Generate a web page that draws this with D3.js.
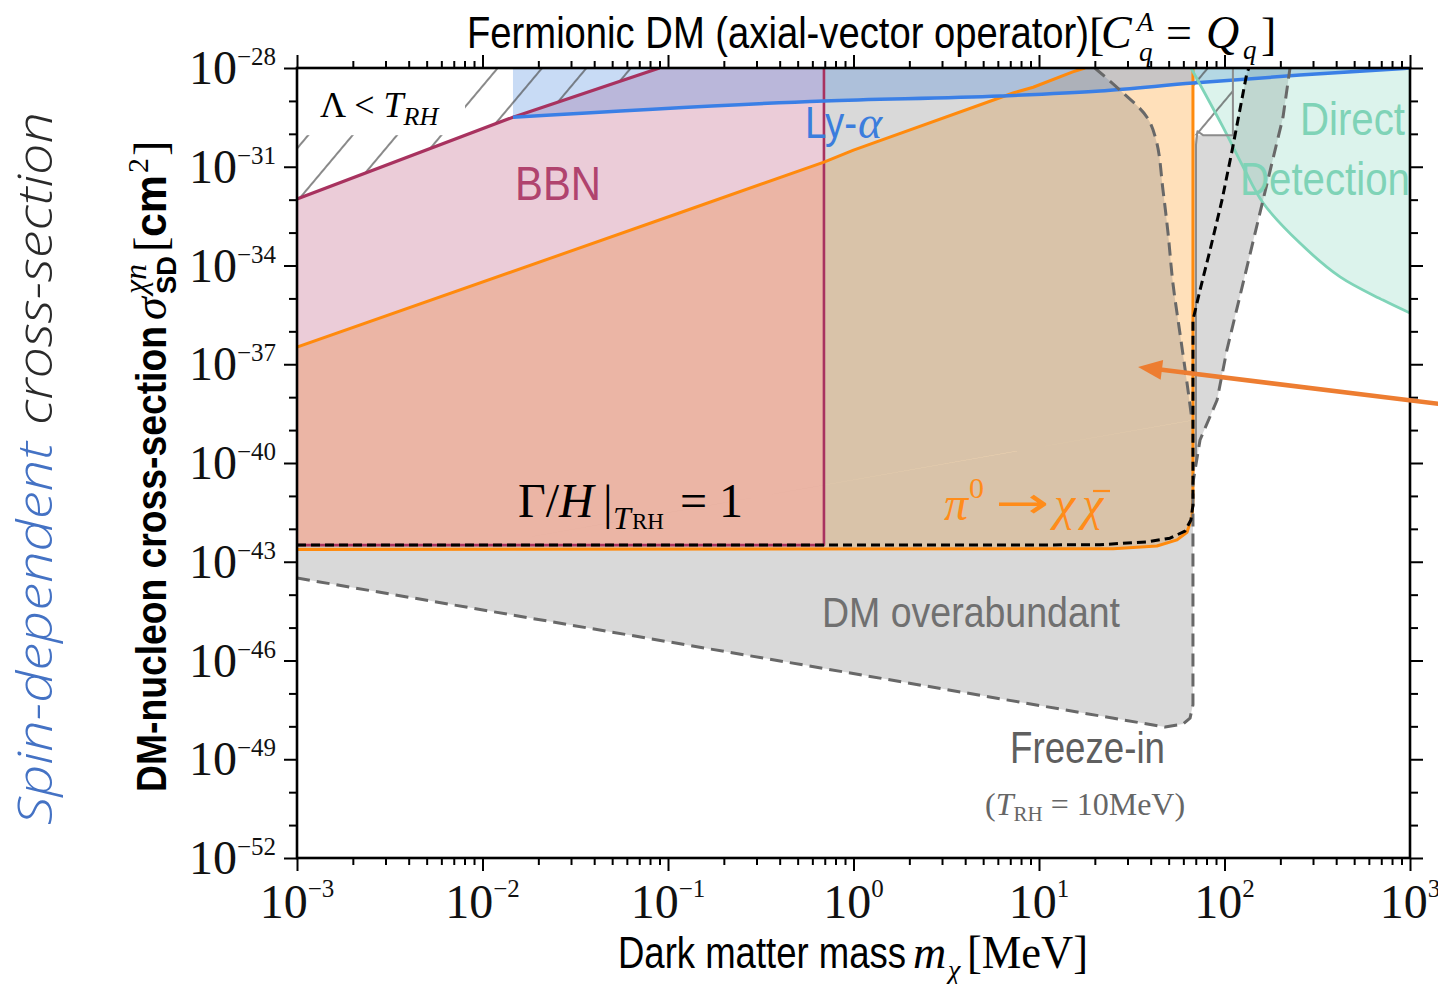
<!DOCTYPE html>
<html>
<head>
<meta charset="utf-8">
<script src="https://cdn.jsdelivr.net/npm/d3@7"></script>
<style>
  html, body { margin: 0; padding: 0; background: #fff; }
  svg { display: block; }
</style>
</head>
<body>
<svg id="chart" width="1438" height="984"></svg>
<script>
// ---------------- data: DM mass [MeV], cross-section [cm^2] ----------------
const xMajor    = [1e-3, 1e-2, 1e-1, 1e0, 1e1, 1e2, 1e3];
const xMajorExp = ["−3", "−2", "−1", "0", "1", "2", "3"];
const yMajor    = [1e-28, 1e-31, 1e-34, 1e-37, 1e-40, 1e-43, 1e-46, 1e-49, 1e-52];
const yMajorExp = ["−28", "−31", "−34", "−37", "−40", "−43", "−46", "−49", "−52"];

// Gamma/H|_TRH = 1 (thermalisation line)
const gammaH = [[0.001, 3.2e-43], [6.2, 3.2e-43], [21.3, 3.3e-43], [38, 4.0e-43], [50.8, 5.2e-43],
                [61.2, 8.5e-43], [65.9, 1.86e-42], [67.6, 5.2e-42], [67.6, 2.2e-36], [73.8, 1.8e-35],
                [83.6, 2.95e-34], [97, 9.8e-33], [110, 3.2e-31], [121, 5.3e-30], [132, 7.0e-29], [135.5, 1e-28]];

// pi0 -> chi chibar : lower/right edge and upper edge
const pionEdge = [[0.001, 2.34e-43], [25.1, 2.5e-43], [43.2, 3.0e-43], [55.5, 4.6e-43], [62.8, 7.9e-43],
                  [66.8, 2.3e-42], [67.6, 7.6e-42], [67.6, 1e-28]];
const pionTop  = [[0.001, 3.3e-37], [0.116, 4.0e-33], [0.693, 1.39e-31], [1.0, 3.2e-31],
                  [7.25, 1.74e-29], [9.3, 2.6e-29], [15.2, 7.6e-29], [17.7, 1e-28]];

// BBN bound
const bbnLine = [[0.001, 1.05e-32], [0.0146, 3.2e-30], [0.09, 1e-28]];
const bbnMass = 0.693;

// Lyman-alpha bound
const lyaLine = [[0.0146, 3.2e-30], [0.693, 1.0e-29], [6.17, 1.41e-29], [21.3, 2.0e-29],
                 [67.6, 3.5e-29], [255, 6.1e-29], [1000, 1e-28]];

// Direct detection bound
const ddLine = [[66, 1e-28], [98.2, 1.6e-30], [126, 1.0e-31], [161.5, 7.9e-33], [255, 4.8e-34],
                [420, 4.5e-35], [715, 8.9e-36], [1000, 3.6e-36]];

// Freeze-in line (T_RH = 10 MeV)
const freezeIn = [[0.001, 3.2e-44], [47.8, 9.5e-49], [59.7, 1.17e-48], [65.2, 1.78e-48], [67.6, 4.5e-48],
                  [67.6, 2.5e-41], [73.8, 5.0e-40], [91.2, 8.2e-39], [103, 2.7e-37], [126, 2.95e-35],
                  [161.4, 9.8e-33], [206.7, 3.2e-30], [225.5, 1e-28]];

// right edge of the overabundant region
const overEdge = [[20.0, 1e-28], [27.4, 2.1e-29], [38.2, 3.2e-30], [43.2, 5.2e-31], [46.6, 1.95e-32],
                  [49.6, 9.8e-34], [52.7, 2.95e-35], [57.5, 8.9e-37], [62.8, 2.7e-38], [66.8, 2.0e-39]];

// Lambda < T_RH box at the pion threshold
const lamBoxMass = [67.6, 111];
const lamBoxSigma = [9.1e-31, 1e-28];

// ---------------- scales ----------------
const svg = d3.select("#chart");
const x = d3.scaleLog().domain([1e-3, 1e3]).range([297, 1410]);
const y = d3.scaleLog().domain([1e-52, 1e-28]).range([858, 68]);

const SERIF = "'Liberation Serif', 'DejaVu Serif', serif";
const SANS = "'Liberation Sans', Arial, sans-serif";

const lineGen = (curve) => d3.line().x(d => x(d[0])).y(d => y(d[1])).curve(curve || d3.curveLinear);
function joinPath(segments, close = true) {
  let s = "";
  segments.forEach((seg, i) => {
    const p = lineGen(seg.curve)(seg.pts);
    s += i === 0 ? p : "L" + p.slice(1);
  });
  return close ? s + "Z" : s;
}
const rev = a => a.slice().reverse();
const CR = d3.curveCatmullRom.alpha(0.5);
const MX = d3.curveMonotoneX;

const defs = svg.append("defs");
defs.append("clipPath").attr("id", "plotClip")
  .append("rect").attr("x", x(1e-3)).attr("y", y(1e-28))
  .attr("width", x(1e3) - x(1e-3)).attr("height", y(1e-52) - y(1e-28));
const pat = defs.append("pattern").attr("id", "hatch").attr("patternUnits", "userSpaceOnUse")
  .attr("width", 34).attr("height", 34).attr("patternTransform", "rotate(40)");
pat.append("line").attr("x1", 17).attr("y1", 0).attr("x2", 17).attr("y2", 34)
  .attr("stroke", "#4a4a4a").attr("stroke-width", 1.3);

const plot = svg.append("g").attr("clip-path", "url(#plotClip)");

// ---------------- filled regions ----------------
// pi0 -> chi chibar
plot.append("path").attr("fill", "#ff8c00").attr("fill-opacity", 0.27)
  .attr("d", joinPath([{ pts: pionEdge }, { pts: rev(pionTop) }]));

// overabundant (freeze-in) region, main part
plot.append("path").attr("fill", "#808080").attr("fill-opacity", 0.3)
  .attr("d", joinPath([
    { pts: freezeIn.slice(0, 5) },
    { pts: [[67.6, 2.0e-39]] },
    { pts: rev(overEdge), curve: CR },
    { pts: [[bbnMass, 1e-28], [bbnMass, gammaH[0][1]], [0.001, gammaH[0][1]]] }
  ]));
// overabundant region, band above the pion threshold
plot.append("path").attr("fill", "#808080").attr("fill-opacity", 0.3)
  .attr("d", joinPath([
    { pts: [[67.6, 2.5e-41], [67.6, 4.6e-31], [70.2, lamBoxSigma[0]], [113, lamBoxSigma[0]]] },
    { pts: gammaH.slice(13) },
    { pts: rev(freezeIn.slice(5)) }
  ]));

// BBN
plot.append("path").attr("fill", "#b03a6a").attr("fill-opacity", 0.26)
  .attr("d", joinPath([
    { pts: [[0.001, gammaH[0][1]]].concat(bbnLine, [[bbnMass, 1e-28], [bbnMass, gammaH[0][1]]]) }
  ]));

// Lyman-alpha
plot.append("path").attr("fill", "#4887de").attr("fill-opacity", 0.3)
  .attr("d", joinPath([{ pts: lyaLine, curve: MX }, { pts: [[1000, 1e-28], [lyaLine[0][0], 1e-28]] }]));

// direct detection
plot.append("path").attr("fill", "#7dd3b8").attr("fill-opacity", 0.27)
  .attr("d", joinPath([{ pts: ddLine, curve: CR }, { pts: [[1000, 1e-28]] }]));

// Lambda < T_RH hatching
plot.append("path").attr("fill", "url(#hatch)")
  .attr("d", joinPath([{ pts: bbnLine.concat([[0.001, 1e-28]]) }]));
plot.append("path").attr("fill", "url(#hatch)")
  .attr("d", joinPath([{ pts: [[lamBoxMass[0], lamBoxSigma[1]], [lamBoxMass[0], lamBoxSigma[0]],
                                 [lamBoxMass[1], lamBoxSigma[0]], [lamBoxMass[1], lamBoxSigma[1]]] }]));

// label box for Lambda < T_RH
plot.append("rect").attr("x", x(1e-3)).attr("y", y(1e-28) + 1)
  .attr("width", x(0.00805) - x(1e-3)).attr("height", y(lamBoxSigma[0]) - y(1e-28) - 1)
  .attr("fill", "#fff");

// ---------------- boundary lines ----------------
const stroke = (d, color, w, dash) => {
  const p = plot.append("path").attr("d", d).attr("fill", "none").attr("stroke", color)
    .attr("stroke-width", w).attr("stroke-linejoin", "round");
  if (dash) p.attr("stroke-dasharray", dash);
  return p;
};
const crimson = "#a8325f";
stroke(joinPath([{ pts: bbnLine }], false), crimson, 3.2);
stroke(joinPath([{ pts: [[bbnMass, 1e-28], [bbnMass, gammaH[0][1]], [0.001, gammaH[0][1]]] }], false), crimson, 2.6);

stroke(joinPath([{ pts: pionTop }], false), "#ff8a0d", 3);
stroke(joinPath([{ pts: pionEdge }], false), "#ff8a0d", 3);

stroke(joinPath([{ pts: lyaLine, curve: MX }], false), "#3a7fe6", 3.5);
stroke(joinPath([{ pts: ddLine, curve: CR }], false), "#7fd4b8", 2.8);

// box outline at the pion threshold
stroke(joinPath([{ pts: [[70.2, 1e-40], [70.2, 4.6e-31], [71.5, 1.2e-30], [76.6, lamBoxSigma[0]],
                           [lamBoxMass[1], lamBoxSigma[0]], [lamBoxMass[1], 1e-28]] }], false), "#8c8c8c", 2);

stroke(joinPath([{ pts: freezeIn }], false), "#686868", 3, "13,7");
stroke(joinPath([{ pts: overEdge, curve: CR }], false), "#686868", 3, "13,7");
stroke(joinPath([{ pts: gammaH }], false), "#000", 3, "9,5");

// ---------------- axes ----------------
const xMinor = [];
for (let d = -3; d < 3; d++) for (let k = 2; k <= 9; k++) xMinor.push(k * Math.pow(10, d));
const yMinor = [];
for (let d = -52; d <= -28; d++) if ((d + 52) % 3 !== 0) yMinor.push(Math.pow(10, d));

function axis(gen, scale, pos, values, size) {
  const g = svg.append("g").attr("transform", pos)
    .call(gen(scale).tickValues(values).tickSize(size).tickFormat(""));
  g.select(".domain").remove();
  g.selectAll("line").attr("stroke", "#000").attr("stroke-width", 2);
  return g;
}
axis(d3.axisBottom, x, "translate(0,858)", xMajor, 13);
axis(d3.axisBottom, x, "translate(0,858)", xMinor, 7);
axis(d3.axisTop, x, "translate(0,68)", xMajor, 13);
axis(d3.axisTop, x, "translate(0,68)", xMinor, 7);
axis(d3.axisLeft, y, "translate(297,0)", yMajor, 13);
axis(d3.axisLeft, y, "translate(297,0)", yMinor, 8);
axis(d3.axisRight, y, "translate(1410,0)", yMajor, 13);
axis(d3.axisRight, y, "translate(1410,0)", yMinor, 8);

svg.append("rect").attr("x", x(1e-3)).attr("y", y(1e-28))
  .attr("width", x(1e3) - x(1e-3)).attr("height", y(1e-52) - y(1e-28))
  .attr("fill", "none").attr("stroke", "#000").attr("stroke-width", 2.6);

// tick labels
xMajor.forEach((v, i) => {
  const t = svg.append("text").attr("x", x(v)).attr("y", 918).attr("text-anchor", "middle")
    .attr("font-family", SERIF).attr("font-size", 48).attr("fill", "#111");
  t.append("tspan").text("10");
  t.append("tspan").attr("font-size", 25).attr("dy", -21).text(xMajorExp[i]);
});
yMajor.forEach((v, i) => {
  const t = svg.append("text").attr("x", 276).attr("y", y(v) + 16).attr("text-anchor", "end")
    .attr("font-family", SERIF).attr("font-size", 48).attr("fill", "#111");
  t.append("tspan").text("10");
  t.append("tspan").attr("font-size", 25).attr("dy", -19).text(yMajorExp[i]);
});

// ---------------- titles ----------------
const txt = (px, py, s, opts = {}) => {
  const t = svg.append("text").attr("x", px).attr("y", py).text(s)
    .attr("font-family", opts.family || SANS).attr("font-size", opts.size || 44)
    .attr("fill", opts.fill || "#000");
  if (opts.italic) t.attr("font-style", "italic");
  if (opts.weight) t.attr("font-weight", opts.weight);
  if (opts.len) t.attr("textLength", opts.len).attr("lengthAdjust", "spacingAndGlyphs");
  if (opts.anchor) t.attr("text-anchor", opts.anchor);
  return t;
};

// chart title
txt(467, 48, "Fermionic DM (axial-vector operator)", { size: 45, len: 622 });
txt(1089, 50, "[", { family: SERIF, size: 46 });
txt(1101, 48, "C", { family: SERIF, size: 46, italic: true });
txt(1137, 31, "A", { family: SERIF, size: 27, italic: true });
txt(1139, 61, "q", { family: SERIF, size: 27, italic: true });
txt(1166, 48, "=", { family: SERIF, size: 46 });
txt(1206, 48, "Q", { family: SERIF, size: 46, italic: true });
txt(1243, 59, "q", { family: SERIF, size: 27, italic: true });
txt(1261, 50, "]", { family: SERIF, size: 46 });

// x-axis title
txt(618, 968, "Dark matter mass", { size: 45, len: 288 });
txt(913, 968, "m", { family: SERIF, size: 46, italic: true });
txt(948, 979, "χ", { family: SERIF, size: 28, italic: true });
txt(967, 968, "[MeV]", { family: SERIF, size: 46, len: 121 });

// y-axis title (rotated)
const yt = svg.append("g").attr("transform", "translate(166,0) rotate(-90)");
const ytxt = (px, py, s, opts = {}) => {
  const t = yt.append("text").attr("x", -px).attr("y", py).text(s)
    .attr("font-family", opts.family || SANS).attr("font-size", opts.size || 42)
    .attr("font-weight", opts.weight || "normal").attr("fill", "#000");
  if (opts.italic) t.attr("font-style", "italic");
  if (opts.len) t.attr("textLength", opts.len).attr("lengthAdjust", "spacingAndGlyphs");
  return t;
};
ytxt(792, 0, "DM-nucleon cross-section", { size: 42, weight: "bold", len: 466 });
ytxt(320, 0, "σ", { family: SERIF, size: 46, italic: true });
ytxt(294, 10, "SD", { size: 28, weight: "bold", len: 38 });
ytxt(294, -20, "χn", { family: SERIF, size: 32, italic: true });
ytxt(252, 0, "[", { family: SERIF, size: 46 });
ytxt(237, 0, "cm", { size: 44, weight: "bold", len: 62 });
ytxt(173, -18, "2", { family: SERIF, size: 30 });
ytxt(156, 0, "]", { family: SERIF, size: 46 });

// outer annotation
const lt = svg.append("g").attr("transform", "translate(52,0) rotate(-90)");
lt.append("text").attr("x", -825).attr("y", 0).text("Spin-dependent")
  .attr("font-family", "'Open Sans', Lato, sans-serif").attr("font-weight", 300).attr("font-style", "italic")
  .attr("font-size", 48).attr("fill", "#4472c4").attr("textLength", 383).attr("lengthAdjust", "spacingAndGlyphs");
lt.append("text").attr("x", -425).attr("y", 0).text("cross-section")
  .attr("font-family", "'Open Sans', Lato, sans-serif").attr("font-weight", 300).attr("font-style", "italic")
  .attr("font-size", 48).attr("fill", "#2a2a2a").attr("textLength", 313).attr("lengthAdjust", "spacingAndGlyphs");

// ---------------- region labels ----------------
const lam = txt(320, 117, "Λ < ", { family: SERIF, size: 36 });
lam.append("tspan").attr("font-style", "italic").text("T");
lam.append("tspan").attr("font-style", "italic").attr("font-size", 26).attr("dy", 8).text("RH");

txt(515, 200, "BBN", { size: 48, len: 86, fill: "#b0436e" });

txt(805, 138, "Ly-", { size: 44, len: 52, fill: "#3b7ddd" });
txt(858, 138, "α", { family: SERIF, size: 46, italic: true, fill: "#3b7ddd" });

txt(1300, 135, "Direct", { size: 47, len: 105, fill: "#7fd3b7" });
txt(1240, 195, "Detection", { size: 47, len: 170, fill: "#7fd3b7" });

// Gamma/H|_TRH = 1
txt(518, 517, "Γ/", { family: SERIF, size: 48 });
txt(559, 517, "H", { family: SERIF, size: 48, italic: true });
txt(603, 519, "|", { family: SERIF, size: 48 });
txt(613, 529, "T", { family: SERIF, size: 32, italic: true });
txt(632, 529, "RH", { family: SERIF, size: 24, len: 32 });
txt(680, 517, "=", { family: SERIF, size: 48 });
txt(719, 517, "1", { family: SERIF, size: 48 });

// pi0 -> chi chibar
const orangeTxt = "#ff8c1a";
txt(944, 520, "π", { family: SERIF, size: 48, italic: true, fill: orangeTxt });
txt(969, 498, "0", { family: SERIF, size: 30, fill: orangeTxt });
txt(995, 518, "→", { family: "'DejaVu Sans', sans-serif", size: 44, len: 54, fill: orangeTxt });
txt(1054, 520, "χ", { family: SERIF, size: 48, italic: true, fill: orangeTxt });
txt(1082, 520, "χ", { family: SERIF, size: 48, italic: true, fill: orangeTxt });
svg.append("line").attr("x1", 1093).attr("x2", 1110).attr("y1", 491).attr("y2", 491)
  .attr("stroke", orangeTxt).attr("stroke-width", 2.2);

txt(822, 627, "DM overabundant", { size: 42, len: 298, fill: "#707070" });
txt(1010, 763, "Freeze-in", { size: 44, len: 155, fill: "#5f5f5f" });
const fr = txt(985, 815, "(", { family: SERIF, size: 32, fill: "#666" });
fr.append("tspan").attr("font-style", "italic").text("T");
fr.append("tspan").attr("font-size", 21).attr("dy", 6).text("RH");
fr.append("tspan").attr("dy", -6).text(" = 10MeV)");

// ---------------- arrow ----------------
const arrowFrom = [1452, 6.2e-39], arrowTo = [34.2, 8.3e-38];
(() => {
  const [x0, y0] = [x(arrowFrom[0]), y(arrowFrom[1])];
  const [x1, y1] = [x(arrowTo[0]), y(arrowTo[1])];
  const L = Math.hypot(x1 - x0, y1 - y0), ux = (x1 - x0) / L, uy = (y1 - y0) / L;
  const hl = 24, hw = 10;
  const bx = x1 - ux * hl, by = y1 - uy * hl;
  svg.append("line").attr("x1", x0).attr("y1", y0).attr("x2", bx + ux * 2).attr("y2", by + uy * 2)
    .attr("stroke", "#ed7d31").attr("stroke-width", 4.5);
  svg.append("path").attr("fill", "#ed7d31")
    .attr("d", `M${x1},${y1}L${bx - uy * hw},${by + ux * hw}L${bx + uy * hw},${by - ux * hw}Z`);
})();
</script>
</body>
</html>
